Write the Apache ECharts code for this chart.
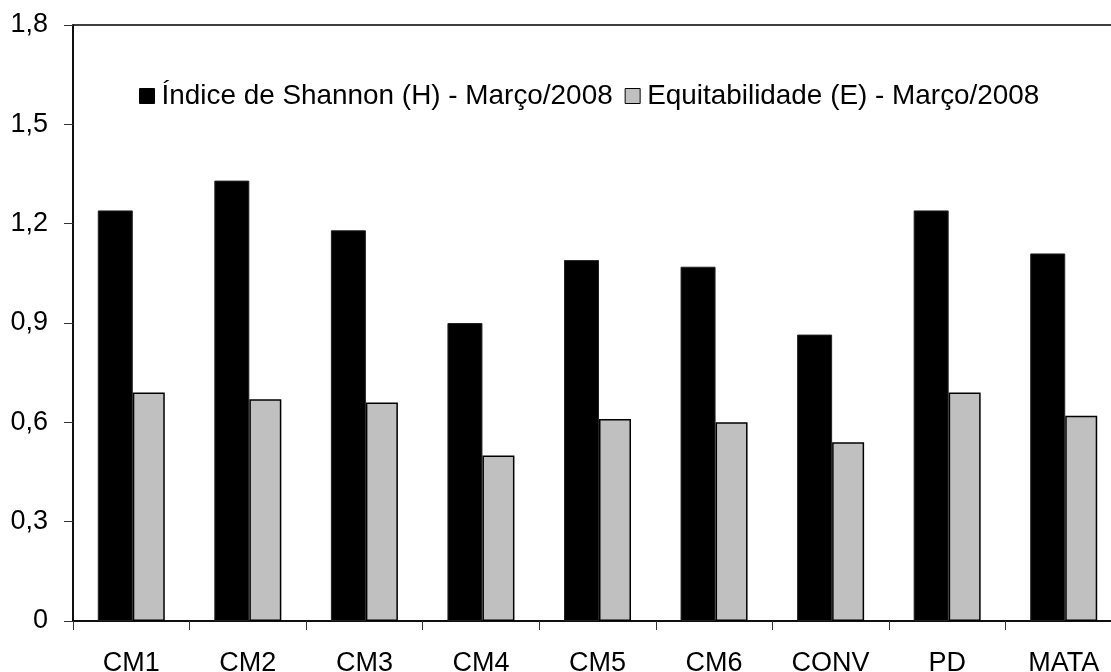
<!DOCTYPE html>
<html>
<head>
<meta charset="utf-8">
<script src="https://cdn.jsdelivr.net/npm/echarts@6/dist/echarts.min.js"></script>
<style>
  html, body { margin: 0; padding: 0; background: #fff; }
  #chart { width: 1111px; height: 672px; }
</style>
</head>
<body>
<div id="chart"></div>
<script>
  let categories = ['CM1', 'CM2', 'CM3', 'CM4', 'CM5', 'CM6', 'CONV', 'PD', 'MATA'];
  let shannon = [1.24, 1.33, 1.18, 0.90, 1.09, 1.07, 0.865, 1.24, 1.11];
  let equitabilidade = [0.69, 0.67, 0.66, 0.50, 0.61, 0.60, 0.54, 0.69, 0.62];
  let seriesNames = ['Índice de Shannon (H) - Março/2008', 'Equitabilidade (E) - Março/2008'];

  let myChart = echarts.init(document.getElementById('chart'));
  let font = 'Liberation Sans, Arial, sans-serif';

  let option = {
    animation: false,
    backgroundColor: '#fff',
    textStyle: { fontFamily: font },
    grid: {
      left: 73,
      top: 25,
      bottom: 51,
      right: -11,
      outerBoundsMode: 'none', // 标签允许超出画布
      show: true,
      borderColor: '#000',
      borderWidth: 1.5
    },
    legend: {
      left: 134,
      top: 77,
      itemWidth: 15,
      itemHeight: 15,
      itemGap: 12,
      icon: 'rect',
      textStyle: { fontSize: 27.9, color: '#000', fontFamily: font, padding: [0, 0, 0, 2] },
      data: [
        { name: seriesNames[0], itemStyle: { color: '#000', borderColor: '#000', borderWidth: 1 } },
        { name: seriesNames[1], itemStyle: { color: '#c0c0c0', borderColor: '#000', borderWidth: 1 } }
      ]
    },
    xAxis: {
      type: 'category',
      data: categories,
      axisLine: { lineStyle: { color: '#000', width: 1.5 } },
      axisTick: { show: true, length: 9, lineStyle: { color: '#333' } },
      axisLabel: { fontSize: 27, color: '#000', margin: 29, fontFamily: font }
    },
    yAxis: {
      type: 'value',
      min: 0,
      max: 1.8,
      interval: 0.3,
      splitLine: { show: false },
      axisLine: { show: true, lineStyle: { color: '#000', width: 1.5 } },
      axisTick: { show: true, length: 9, lineStyle: { color: '#333' } },
      axisLabel: {
        fontSize: 27,
        color: '#000',
        margin: 25,
        fontFamily: font,
        formatter: function (v) {
          if (v === 0) return '0';
          return v.toFixed(1).replace('.', ',');
        }
      }
    },
    series: [
      {
        name: seriesNames[0],
        type: 'bar',
        data: shannon,
        barWidth: 35,
        barGap: 0,
        itemStyle: { color: '#000', borderColor: '#222', borderWidth: 1 }
      },
      {
        name: seriesNames[1],
        type: 'bar',
        data: equitabilidade,
        barWidth: 32,
        barGap: 0,
        itemStyle: { color: '#c0c0c0', borderColor: '#000', borderWidth: 1.5 }
      }
    ]
  };
  myChart.setOption(option);
</script>
</body>
</html>
